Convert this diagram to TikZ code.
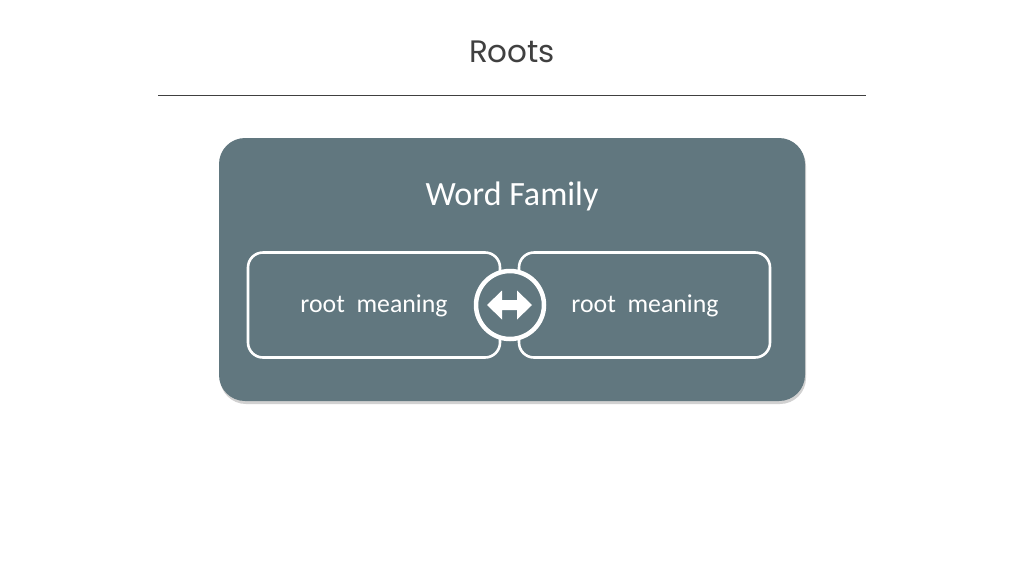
\documentclass[tikz,border=0pt]{standalone}
\usepackage{fontspec}
\setmainfont{Carlito}
\newfontfamily\titlefont{Poppins}
\definecolor{panel}{HTML}{61777F}
\definecolor{ink}{HTML}{404040}
\begin{document}
\begin{tikzpicture}[x=1pt,y=-1pt,
  panelbox/.style={fill=panel,rounded corners=26pt},
  rootbox/.style={draw=white,line width=2.6pt,fill=panel,rounded corners=15pt},
  rootlabel/.style={text=white,font=\fontsize{25.8}{30}\selectfont},
  hub/.style={circle,draw=white,line width=4.5pt,fill=panel,minimum size=68pt,inner sep=0pt}]
\useasboundingbox (0,0) rectangle (1024,576);
\fill[white] (0,0) rectangle (1024,576);
\node[text=ink,font=\titlefont\fontsize{31}{36}\selectfont] (title) at (512,52) {Roots};
\coordinate (ruleL) at (158,95.5);
\coordinate (ruleR) at (866,95.5);
\draw[ink,line width=1pt] (ruleL) -- (ruleR);
% shadow
\fill[black!18,rounded corners=26pt] (220,140) rectangle (806,404);
\fill[panelbox] (219,138) rectangle (805,401);
\node[text=white,font=\fontsize{34}{40}\selectfont] (family) at (512,196) {Word Family};
\draw[rootbox] (248,252.5) rectangle (500,357.5);
\draw[rootbox] (519,252.5) rectangle (770,357.5);
\node[rootlabel] (left) at (374,306) {root\ \ meaning};
\node[rootlabel] (right) at (645,306) {root\ \ meaning};
\node[hub] (hub) at (510,305) {};
\fill[white] (487,305) -- (502,290.5) -- (502,300) -- (517,300) -- (517,290.5) -- (532,305)
  -- (517,319.5) -- (517,310) -- (502,310) -- (502,319.5) -- cycle;
\end{tikzpicture}
\end{document}
